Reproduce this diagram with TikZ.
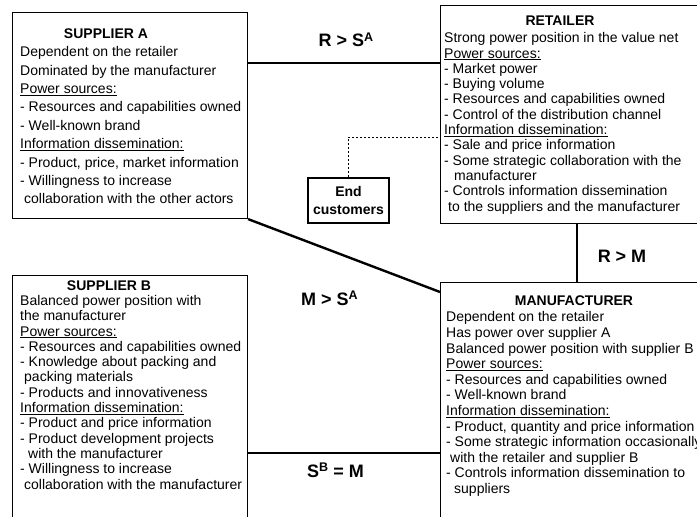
\documentclass[tikz,border=0pt]{standalone}
\usepackage{fontspec}
\setmainfont{Liberation Sans}
% small raised index letter used in the relation labels
\newcommand\supidx[1]{\raisebox{0.28em}{\fontsize{12.5}{12.5}\selectfont #1}}
\begin{document}
\begin{tikzpicture}[x=1pt,y=-1pt,
  panel/.style={draw, line width=1.1pt, anchor=north west, inner sep=0pt},
  body/.style={anchor=north west, inner sep=0pt, align=left,
               font=\fontsize{14}{15.3}\selectfont},
  heading/.style={anchor=base, inner sep=0pt, font=\fontsize{14}{15.3}\selectfont\bfseries},
  rel/.style={anchor=base, inner sep=0pt, font=\fontsize{18}{20}\selectfont\bfseries},
  link/.style={line width=2.4pt},
  feed/.style={line width=0.8pt, dash pattern=on 2pt off 2pt}]
\useasboundingbox (0,0) rectangle (697,517);
\clip (0,0) rectangle (697,517);

% actor boxes
\node[panel, minimum width=235pt, minimum height=206pt] (supA) at (12,12) {};
\node[panel, minimum width=290pt, minimum height=218pt] (ret)  at (440,5) {};
\node[panel, minimum width=235pt, minimum height=270pt] (supB) at (12,275) {};
\node[panel, minimum width=290pt, minimum height=260pt] (man)  at (440,282) {};
\node[draw, line width=1.1pt, minimum width=81pt, minimum height=45pt, inner sep=0pt,
      align=center, font=\fontsize{14}{17.3}\selectfont\bfseries]
      (endc) at (348.5,200.5) {End\\customers};

% box titles
\node[heading] (supAt) at (106,38) {SUPPLIER A};
\node[heading] (rett)  at (560,25) {RETAILER};
\node[heading] (supBt) at (109,290) {SUPPLIER B};
\node[heading] (mant)  at (574,305) {MANUFACTURER};

% box contents
\node[body, font=\fontsize{14}{18.4}\selectfont] (supAb) at (20,45.5) {\rule{0pt}{11pt}Dependent on the retailer\\
Dominated by the manufacturer\\
\underline{Power sources:}\\
- Resources and capabilities owned\\
- Well-known brand\\
\underline{Information dissemination:}\\
- Product, price, market information\\
- Willingness to increase\\
\hspace*{4pt}collaboration with the other actors};

\node[body] (retb) at (444,31.5) {\rule{0pt}{11pt}Strong power position in the value net\\
\underline{Power sources:}\\
- Market power\\
- Buying volume\\
- Resources and capabilities owned\\
- Control of the distribution channel\\
\underline{Information dissemination:}\\
- Sale and price information\\
- Some strategic collaboration with the\\
\hspace*{10pt}manufacturer\\
- Controls information dissemination\\
\hspace*{4pt}to the suppliers and the manufacturer};

\node[body] (supBb) at (20,294.2) {\rule{0pt}{11pt}Balanced power position with\\
the manufacturer\\
\underline{Power sources:}\\
- Resources and capabilities owned\\
- Knowledge about packing and\\
\hspace*{4pt}packing materials\\
- Products and innovativeness\\
\underline{Information dissemination:}\\
- Product and price information\\
- Product development projects\\
\hspace*{8pt}with the manufacturer\\
- Willingness to increase\\
\hspace*{4pt}collaboration with the manufacturer};

\node[body, font=\fontsize{14}{15.6}\selectfont] (manb) at (446,310.7) {\rule{0pt}{11pt}Dependent on the retailer\\
Has power over supplier A\\
Balanced power position with supplier B\\
\underline{Power sources:}\\
- Resources and capabilities owned\\
- Well-known brand\\
\underline{Information dissemination:}\\
- Product, quantity and price information\\
- Some strategic information occasionally\\
\hspace*{4pt}with the retailer and supplier B\\
- Controls information dissemination to\\
\hspace*{8pt}suppliers};

% power relations between the actors
\draw[link] (supA.east |- 0,63) -- (ret.west |- 0,63);
\draw[link] (supA.south east) -- (man.west |- 0,292);
\draw[link] (ret.south -| 577,0) -- (man.north -| 577,0);
\draw[link] (supB.east |- 0,453) -- (man.west |- 0,453);
\draw[feed] (endc.north) |- (ret.west |- 0,137);

% relation labels
\node[rel] (rSA) at (346,46.5) {R > S\supidx{A}};
\node[rel] (mSA) at (329.5,305) {M > S\supidx{A}};
\node[rel] (rM)  at (622,262) {R > M};
\node[rel] (sBM) at (335.5,477) {S\supidx{B} = M};
\end{tikzpicture}
\end{document}
